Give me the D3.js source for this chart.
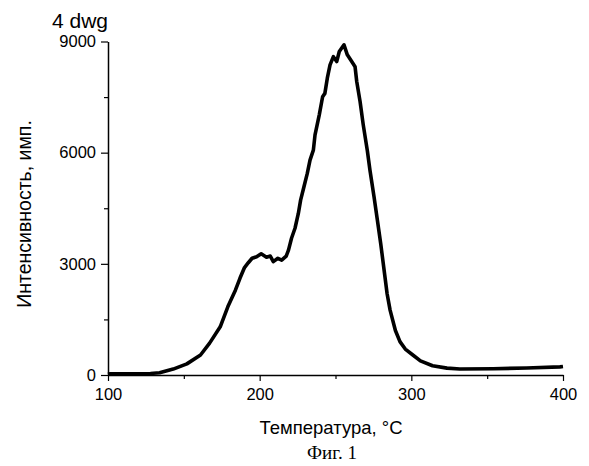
<!DOCTYPE html>
<html>
<head>
<meta charset="utf-8">
<script src="https://cdn.jsdelivr.net/npm/d3@7"></script>
<style>
  body { margin: 0; background: #fff; }
  svg { display: block; }
  text { font-family: "Liberation Sans", Arial, sans-serif; fill: #000; }
</style>
</head>
<body>
<div id="chart"></div>
<script>
// temperature (°C)
const temps = [100, 101, 115, 128, 134, 143, 152, 161, 167, 174, 179, 184, 187, 190, 192.5, 195,
  198, 201, 204.5, 207, 209, 212, 214.5, 217.5, 219, 221, 223.3, 225.5, 227, 229.2, 231.4, 233.2,
  235.4, 236.5, 239.3, 241.5, 243, 244.6, 246.4, 248.6, 250.8, 252.5, 255.6, 257.8, 260.7, 262.9,
  264, 266.2, 268.3, 271, 272.7, 275.4, 277.6, 279.8, 282.6, 284, 286, 289.5, 292.5, 296, 301,
  306, 314, 323.5, 332, 354, 376, 398, 400];
// intensity (counts)
const counts = [20, 30, 30, 40, 60, 160, 300, 540, 860, 1300, 1840, 2290, 2610, 2900, 3030, 3150,
  3190, 3270, 3180, 3210, 3060, 3150, 3100, 3210, 3370, 3690, 3960, 4360, 4720, 5080, 5440, 5800,
  6070, 6480, 7020, 7510, 7600, 8010, 8370, 8590, 8460, 8730, 8910, 8640, 8460, 8320,
  7920, 7380, 6750, 6050, 5530, 4810, 4180, 3550, 2650, 2200, 1750, 1200, 900, 700, 540,
  380, 250, 185, 160, 170, 190, 220, 230];

const xTicks = [100, 200, 300, 400];
const xMinor = [150, 250, 350];
const yTicks = [0, 3000, 6000, 9000];
const yMinor = [1500, 4500, 7500];

const width = 589, height = 466;
const margin = { left: 108, right: 26, top: 41.5, bottom: 91 };

const svg = d3.select("#chart").append("svg")
  .attr("width", width)
  .attr("height", height);

const x = d3.scaleLinear().domain([100, 400]).range([margin.left, width - margin.right]);
const y = d3.scaleLinear().domain([0, 9000]).range([height - margin.bottom, margin.top]);

// minor ticks first, no labels
svg.append("g")
  .attr("transform", `translate(0,${y(0)})`)
  .call(d3.axisBottom(x).tickValues(xMinor).tickSize(4).tickFormat(""))
  .call(g => g.select(".domain").remove());
svg.append("g")
  .attr("transform", `translate(${x(100)},0)`)
  .call(d3.axisLeft(y).tickValues(yMinor).tickSize(4).tickFormat(""))
  .call(g => g.select(".domain").remove());

const xAxis = svg.append("g")
  .attr("transform", `translate(0,${y(0)})`)
  .call(d3.axisBottom(x).tickValues(xTicks).tickSize(6).tickSizeOuter(0).tickPadding(7).tickFormat(d3.format("d")));
const yAxis = svg.append("g")
  .attr("transform", `translate(${x(100)},0)`)
  .call(d3.axisLeft(y).tickValues(yTicks).tickSize(7).tickSizeOuter(0).tickPadding(5).tickFormat(d3.format("d")));

[xAxis, yAxis].forEach(g => {
  g.selectAll("text").style("font-family", '"Liberation Sans", Arial, sans-serif').style("font-size", "16.5px");
  g.select(".domain").attr("stroke-width", 1.5);
});
svg.selectAll(".tick line").attr("stroke-width", 1.2);

// the trace
const line = d3.line()
  .x((d, i) => x(temps[i]))
  .y(d => y(d));

svg.append("path")
  .datum(counts)
  .attr("fill", "none")
  .attr("stroke", "#000")
  .attr("stroke-width", 3.6)
  .attr("stroke-linejoin", "round")
  .attr("d", line);

// labels
svg.append("text")
  .attr("x", 52).attr("y", 28)
  .style("font-size", "21px")
  .text("4 dwg");

svg.append("text")
  .attr("transform", `translate(31,${214}) rotate(-90)`)
  .attr("text-anchor", "middle")
  .style("font-size", "19.5px")
  .text("Интенсивность, имп.");

svg.append("text")
  .attr("x", 331).attr("y", 434)
  .attr("text-anchor", "middle")
  .style("font-size", "18.5px")
  .text("Температура, °C");

svg.append("text")
  .attr("x", 332).attr("y", 459)
  .attr("text-anchor", "middle")
  .style("font-family", '"Liberation Serif", "Times New Roman", serif')
  .style("font-size", "19px")
  .text("Фиг. 1");
</script>
</body>
</html>
